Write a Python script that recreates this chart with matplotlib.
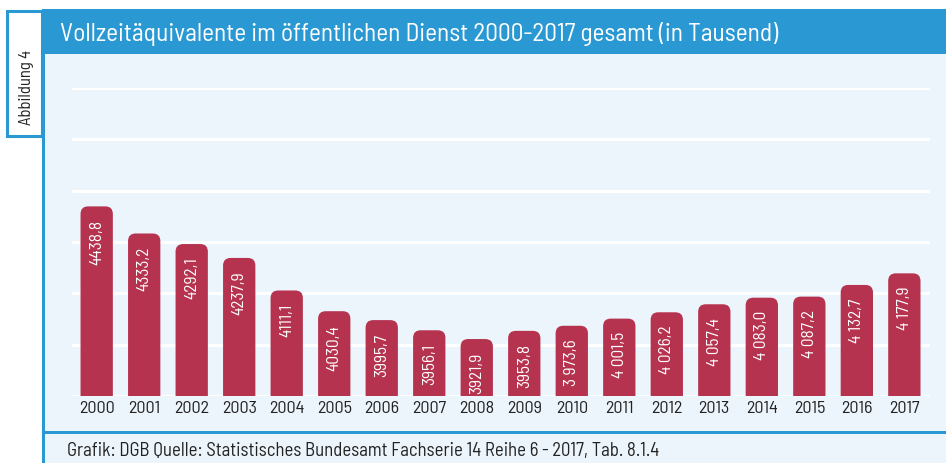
import matplotlib
matplotlib.use("Agg")
import matplotlib.pyplot as plt
from matplotlib.patches import Rectangle, FancyBboxPatch

years = ["2000", "2001", "2002", "2003", "2004", "2005", "2006", "2007", "2008",
         "2009", "2010", "2011", "2012", "2013", "2014", "2015", "2016", "2017"]
values = [4438.8, 4333.2, 4292.1, 4237.9, 4111.1, 4030.4, 3995.7, 3956.1, 3921.9,
          3953.8, 3973.6, 4001.5, 4026.2, 4057.4, 4083.0, 4087.2, 4132.7, 4177.9]
value_labels = ["4438,8", "4333,2", "4292,1", "4237,9", "4111,1", "4030,4", "3995,7",
                "3956,1", "3921,9", "3953,8", "3 973,6", "4 001,5", "4 026,2",
                "4 057,4", "4 083,0", "4 087,2", "4 132,7", "4 177,9"]
title = "Vollzeitäquivalente im öffentlichen Dienst 2000-2017 gesamt (in Tausend)"
source = "Grafik: DGB Quelle: Statistisches Bundesamt Fachserie 14 Reihe 6 - 2017, Tab. 8.1.4"
fig_label = "Abbildung 4"

FONT = ["Barlow Semi Condensed", "DejaVu Sans"]
plt.rcParams["font.family"] = FONT

W, H = 946, 464
fig = plt.figure(figsize=(W / 100, H / 100), dpi=100)
fig.patch.set_facecolor("white")

BLUE = "#2a99d3"
PANEL = "#edf5fc"
BAR = "#b5334f"
TXT = "#222222"

def px(x, y, w, h):
    return (x / W, 1 - (y + h) / H, w / W, h / H)

def rect(x, y, w, h, **kw):
    l, b, ww, hh = px(x, y, w, h)
    fig.add_artist(Rectangle((l, b), ww, hh, transform=fig.transFigure, **kw))

rect(42, 55, 904, 409, facecolor=PANEL, edgecolor="none", zorder=0)
rect(42, 10, 904, 45, facecolor=BLUE, edgecolor="none", zorder=1)
rect(42, 55, 3, 409, facecolor=BLUE, edgecolor="none", zorder=1)
rect(42, 432, 904, 3, facecolor=BLUE, edgecolor="none", zorder=1)
rect(6.5, 12, 35, 125, facecolor="white", edgecolor=BLUE, linewidth=2.2, zorder=2)

fig.text(60 / W, 1 - 34 / H, title, color="white", fontsize=18.3, ha="left",
         va="center", family=FONT)
fig.text(26 / W, 1 - 87 / H, fig_label, color=TXT, fontsize=12, rotation=90,
         ha="center", va="center", family=FONT)
fig.text(67 / W, 1 - 451 / H, source, color=TXT, fontsize=13.5, ha="left",
         va="center", family=FONT)

ax_l, ax_r, ax_t, ax_b = 71.7, 930, 89, 397
ax = fig.add_axes([ax_l / W, 1 - ax_b / H, (ax_r - ax_l) / W, (ax_b - ax_t) / H])
ax.set_facecolor("none")
ymin, ymax = 3700, 4900
ax.set_ylim(ymin, ymax)
ax.set_xlim(-0.526, 17.54)
for s in ax.spines.values():
    s.set_visible(False)
ax.set_yticks(range(3700, 4901, 200))
ax.set_yticklabels([])
ax.tick_params(axis="y", length=0)
ax.grid(axis="y", color="white", linewidth=2.2, zorder=0)
ax.set_axisbelow(True)
ax.set_xticks(range(len(years)))
ax.set_xticklabels(years, fontsize=13, color=TXT, family=FONT)
ax.tick_params(axis="x", length=0, pad=3)

bw = 0.68
xpx_per_unit = (ax_r - ax_l) / (17.54 + 0.526)
ypx_per_unit = (ax_b - ax_t) / (ymax - ymin)
r = 0.16
aspect = (r * xpx_per_unit / ypx_per_unit) / r
for i, v in enumerate(values):
    p = FancyBboxPatch((i - bw / 2, ymin - 100), bw, v - ymin + 100,
                       boxstyle=f"round,pad=0,rounding_size={r}",
                       mutation_aspect=aspect, facecolor=BAR, edgecolor="none",
                       zorder=3, clip_on=True)
    ax.add_patch(p)
    ax.annotate(value_labels[i], (i, v), xytext=(0, -9), textcoords="offset points",
                rotation=90, ha="center", va="top", color="white", fontsize=12.5,
                family=FONT, zorder=4)

fig.savefig("out.png", dpi=100, facecolor=fig.get_facecolor())
